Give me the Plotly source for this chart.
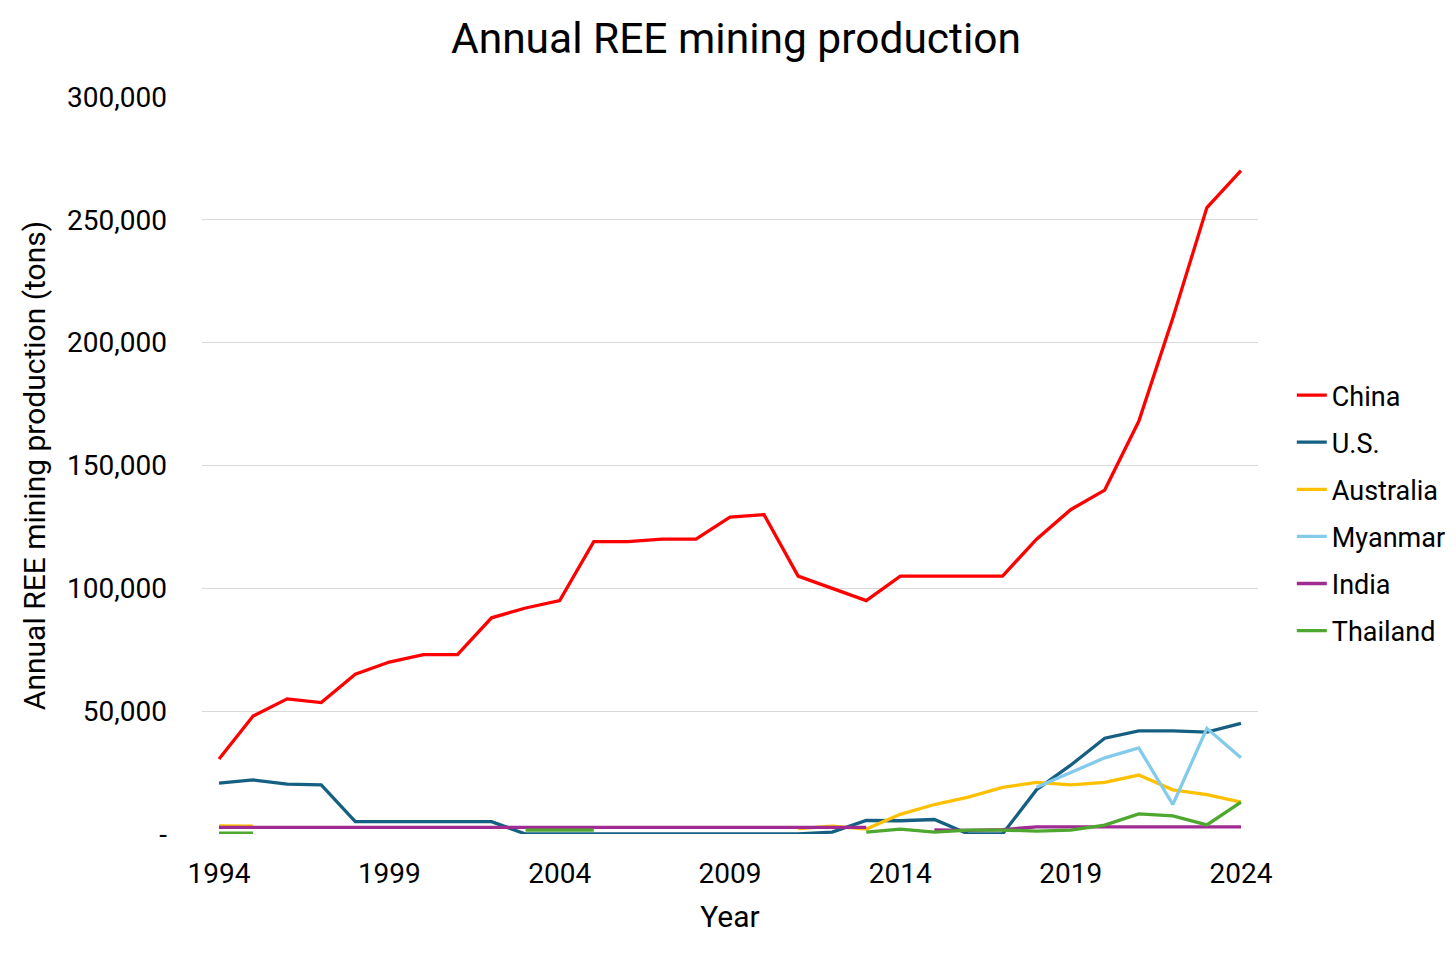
import plotly.graph_objects as go

years = list(range(1994, 2025))

china = [30500, 48000, 55000, 53500, 65000, 70000, 73000, 73000, 88000, 92000,
         95000, 119000, 119000, 120000, 120000, 129000, 130000, 105000, 100000, 95000,
         105000, 105000, 105000, 105000, 120000, 132000, 140000, 168000, 210000, 255000, 270000]
us = [20700, 22000, 20300, 20000, 5000, 5000, 5000, 5000, 5000, 0,
      0, 0, 0, 0, 0, 0, 0, 0, 800, 5500,
      5400, 5900, 0, 0, 18000, 28000, 39000, 42000, 42000, 41500, 45000]
australia = [3300, 3200, None, None, None, None, None, None, None, None,
             None, None, None, None, None, None, None, 2200, 3200, 2000,
             8000, 12000, 15000, 19000, 21000, 20000, 21000, 24000, 18000, 16000, 13000]
myanmar = [None] * 24 + [19000, 25000, 31000, 35000, 12000, 43000, 31000]
india = [2700] * 20 + [None, 1700, 1500, 1800, 2900, 2900, 2900, 2900, 2900, 2900, 2900]
thailand = [300, 300, None, None, None, None, None, None, None, 1600,
            1600, 1600, None, None, None, None, None, None, None, 800,
            2000, 800, 1600, 1600, 1200, 1600, 3600, 8200, 7400, 3700, 13000]

series_names = ["China", "U.S.", "Australia", "Myanmar", "India", "Thailand"]
series_values = [china, us, australia, myanmar, india, thailand]
series_colors = ["#FF0000", "#156082", "#FFC000", "#83CAEB", "#A02B93", "#4EA72E"]

y_tickvals = [0, 50000, 100000, 150000, 200000, 250000, 300000]
y_ticktext = ["-", "50,000", "100,000", "150,000", "200,000", "250,000", "300,000"]
x_tickvals = [1994, 1999, 2004, 2009, 2014, 2019, 2024]

fig = go.Figure()
for name, vals, col in zip(series_names, series_values, series_colors):
    fig.add_trace(go.Scatter(x=years, y=vals, mode="lines", name=name,
                             line=dict(color=col, width=3.3), connectgaps=False,
                             legendgroup=name))

W, H = 1456, 955
L, R, T, B = 194, 206, 89, 129

fig.update_layout(
    width=W, height=H,
    margin=dict(l=L, r=R, t=T, b=B),
    paper_bgcolor="white", plot_bgcolor="white",
    font=dict(family="Roboto, Arial, sans-serif", color="black"),
    title=dict(text="Annual REE mining production", x=0.5, xanchor="center",
               y=1 - 30 / H, yanchor="middle", font=dict(size=42.5, color="black")),
    legend=dict(x=1.032, xanchor="left", y=0.4355, yanchor="middle",
                font=dict(size=27, color="black"), tracegroupgap=9,
                traceorder="grouped", itemwidth=30, bgcolor="rgba(0,0,0,0)"),
    showlegend=True,
)
fig.update_xaxes(range=[1993.5, 2024.5], tickvals=x_tickvals, showgrid=False,
                 zeroline=False, showline=False, ticks="",
                 tickfont=dict(size=28), ticklabelstandoff=20,
                 title=dict(text="Year", font=dict(size=30), standoff=16))
fig.update_yaxes(range=[0, 300000], tickvals=y_tickvals, ticktext=y_ticktext,
                 showgrid=True, gridcolor="#D9D9D9", gridwidth=1.3, zeroline=False,
                 showline=False, ticks="", tickfont=dict(size=28), ticklabelstandoff=34,
                 title=dict(text="Annual REE mining production (tons)", font=dict(size=30), standoff=12))

fig.write_html("out.html")
